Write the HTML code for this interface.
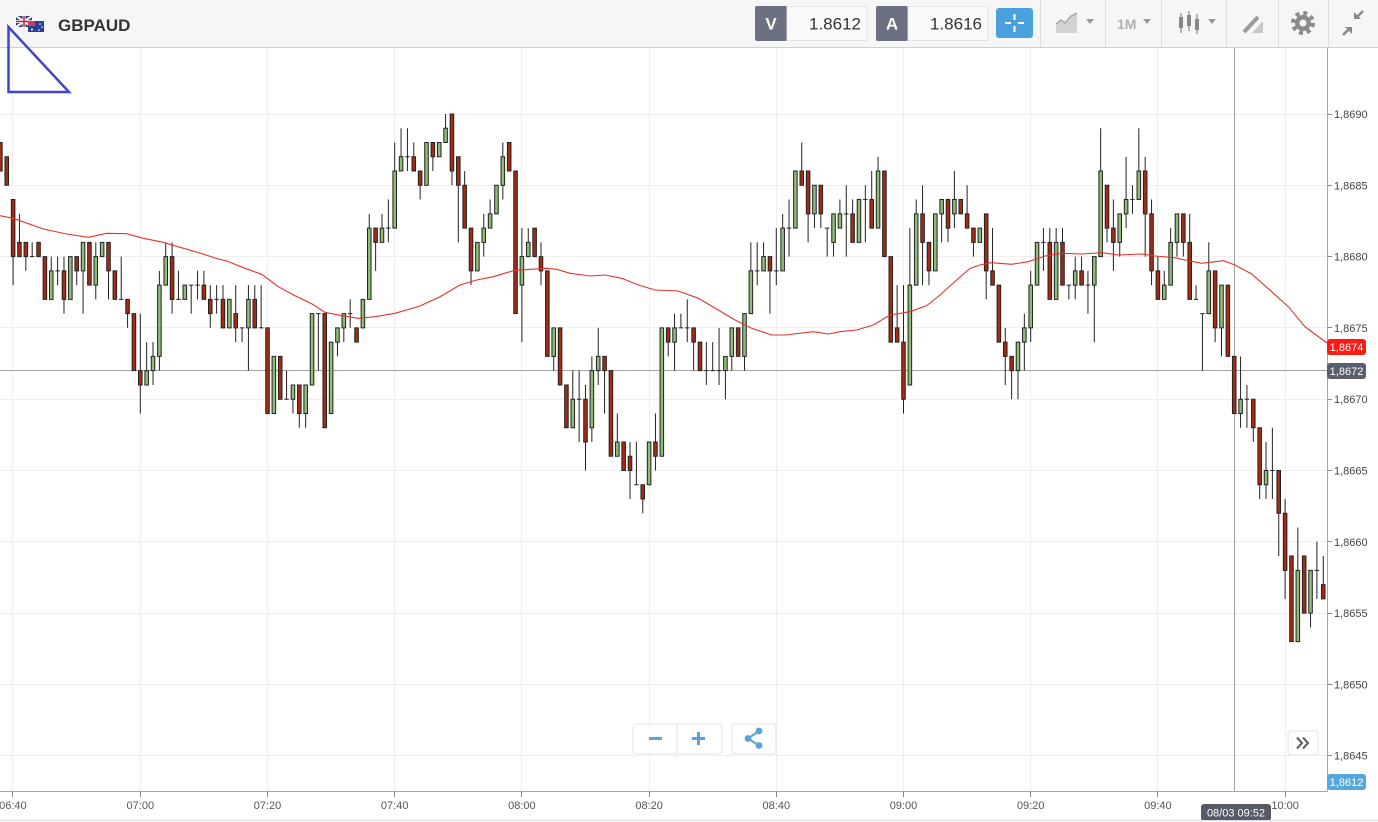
<!DOCTYPE html>
<html>
<head>
<meta charset="utf-8">
<style>
html,body{margin:0;padding:0;background:#fff;}
svg{display:block;font-family:"Liberation Sans",Arial,sans-serif;}
</style>
</head>
<body>
<svg width="1378" height="822" viewBox="0 0 1378 822" xmlns="http://www.w3.org/2000/svg">
<rect width="1378" height="822" fill="#fff"/>

<!-- grid -->
<g stroke="#efefef" stroke-width="1">
<path d="M12.5 48V791M140.5 48V791M267.5 48V791M394.5 48V791M521.5 48V791M649.5 48V791M776.5 48V791M903.5 48V791M1030.5 48V791M1157.5 48V791M1285.5 48V791"/>
<path d="M0 114.5H1327M0 185.5H1327M0 256.5H1327M0 327.5H1327M0 399.5H1327M0 470.5H1327M0 541.5H1327M0 613.5H1327M0 684.5H1327M0 755.5H1327"/>
</g>

<!-- crosshair -->
<path d="M0 370.5H1327M1234.5 48V791" stroke="#a3a3a3" stroke-width="1" fill="none"/>

<!-- wicks -->
<path transform="translate(140.3,114) scale(6.36,14.26)" vector-effect="non-scaling-stroke" fill="none" stroke="#222" stroke-width="1" d="M-22 2V4M-21 3V5M-20 6V12M-19 7V10M-18 9V11M-17 9V10M-16 9V10M-15 10V13M-14 10V13M-13 10V12M-12 10V14M-11 10V13M-10 10V12M-9 9V14M-8 9V12M-7 9V13M-6 9V10M-5 9V13M-4 11V13M-3 10V13M-2 13V15M-1 14V18M0 14V21M1 16V19M2 16V19M3 11V18M4 9V12M5 9V14M6 11V13M7 12V13M8 12V14M9 11V13M10 11V13M11 12V15M12 12V14M13 12V15M14 13V15M15 12V16M16 15V16M17 12V18M18 12V15M19 12V15M20 15V21M21 17V21M22 17V20M23 18V20M24 19V21M25 19V22M26 19V22M27 14V19M28 14V18M29 14V22M30 16V21M31 15V17M32 14V16M33 13V15M34 15V16M35 13V15M36 7V13M37 8V11M38 7V9M39 6V9M40 2V8M41 1V4M42 1V4M43 2V4M44 4V6M45 2V5M46 2V4M47 2V3M48 0V2M49 0V5M50 3V9M51 4V8M52 8V12M53 9V11M54 7V10M55 6V8M56 5V7M57 2V6M58 2V4M59 4V14M60 8V16M61 8V10M62 8V10M63 9V12M64 11V17M65 15V18M66 15V19M67 19V22M68 18V22M69 18V23M70 19V25M71 17V23M72 15V19M73 17V21M74 18V24M75 21V24M76 23V25M77 23V27M78 23V26M79 26V28M80 23V26M81 21V25M82 15V24M83 15V17M84 14V18M85 14V15M86 13V16M87 15V18M88 16V18M89 16V19M90 16V18M91 15V19M92 17V20M93 15V18M94 15V17M95 14V18M96 9V14M97 9V12M98 9V11M99 10V14M100 8V12M101 7V11M102 6V10M103 4V8M104 2V5M105 4V9M106 5V8M107 5V8M108 8V10M109 7V10M110 6V8M111 5V10M112 6V9M113 6V9M114 5V9M115 4V8M116 3V8M117 4V10M118 10V16M119 12V16M120 12V21M121 8V19M122 6V12M123 5V12M124 9V12M125 7V11M126 6V9M127 6V9M128 4V8M129 6V7M130 5V8M131 8V10M132 8V9M133 7V13M134 8V12M135 12V16M136 15V19M137 17V20M138 16V20M139 14V18M140 11V16M141 9V12M142 8V11M143 8V13M144 8V13M145 8V12M146 12V13M147 10V13M148 10V12M149 11V14M150 10V16M151 1V10M152 5V9M153 6V11M154 7V10M155 3V8M156 5V7M157 1V6M158 3V10M159 6V12M160 10V13M161 11V13M162 8V12M163 7V10M164 7V10M165 7V13M166 12V13M167 14V18M168 9V14M169 11V16M170 12V17M171 12V17M172 17V21M173 17V22M174 19V22M175 20V23M176 22V27M177 23V27M178 22V27M179 25V31M180 27V34M181 31V37M182 29V37M183 31V35M184 32V36M185 30V34M186 31V34"/>

<!-- green bodies -->
<path transform="translate(138.52,114) scale(6.36,14.26)" vector-effect="non-scaling-stroke" fill="#8fbd76" stroke="#222" stroke-width="1" d="M-14 11h.56V13h-.56zM-11 10h.56V13h-.56zM-9 9h.56V11h-.56zM-7 10h.56V12h-.56zM-6 9h.56V10h-.56zM1 18h.56V19h-.56zM2 17h.56V18h-.56zM3 12h.56V17h-.56zM4 10h.56V12h-.56zM7 12h.56V13h-.56zM14 13h.56V15h-.56zM17 13h.56V15h-.56zM21 17h.56V21h-.56zM24 19h.56V20h-.56zM26 19h.56V21h-.56zM27 14h.56V19h-.56zM30 16h.56V21h-.56zM31 15h.56V16h-.56zM32 14h.56V15h-.56zM35 13h.56V15h-.56zM36 8h.56V13h-.56zM38 8h.56V9h-.56zM40 4h.56V8h-.56zM41 3h.56V4h-.56zM45 2h.56V5h-.56zM47 2h.56V3h-.56zM48 1h.56V2h-.56zM53 9h.56V11h-.56zM54 8h.56V9h-.56zM55 7h.56V8h-.56zM56 5h.56V7h-.56zM57 3h.56V5h-.56zM60 10h.56V12h-.56zM61 9h.56V10h-.56zM65 15h.56V17h-.56zM68 20h.56V22h-.56zM71 18h.56V22h-.56zM72 17h.56V18h-.56zM75 23h.56V24h-.56zM80 23h.56V26h-.56zM82 15h.56V24h-.56zM84 15h.56V16h-.56zM92 17h.56V18h-.56zM93 15h.56V17h-.56zM95 14h.56V17h-.56zM96 11h.56V14h-.56zM98 10h.56V11h-.56zM101 8h.56V11h-.56zM103 4h.56V8h-.56zM106 5h.56V7h-.56zM109 7h.56V9h-.56zM110 7h.56V8h-.56zM113 6h.56V9h-.56zM116 4h.56V8h-.56zM121 12h.56V19h-.56zM122 7h.56V12h-.56zM125 7h.56V11h-.56zM126 6h.56V7h-.56zM128 6h.56V7h-.56zM132 8h.56V9h-.56zM138 16h.56V18h-.56zM139 15h.56V16h-.56zM140 12h.56V15h-.56zM141 9h.56V12h-.56zM144 9h.56V13h-.56zM147 11h.56V12h-.56zM150 10h.56V12h-.56zM151 4h.56V10h-.56zM154 7h.56V9h-.56zM155 6h.56V7h-.56zM157 4h.56V6h-.56zM161 12h.56V13h-.56zM162 9h.56V12h-.56zM163 7h.56V9h-.56zM168 11h.56V14h-.56zM170 12h.56V15h-.56zM173 20h.56V21h-.56zM177 25h.56V26h-.56zM182 32h.56V37h-.56zM184 32h.56V35h-.56z"/>

<!-- red bodies -->
<path transform="translate(138.52,114) scale(6.36,14.26)" vector-effect="non-scaling-stroke" fill="#a72a12" stroke="#222" stroke-width="1" d="M-22 2h.56V4h-.56zM-21 3h.56V5h-.56zM-20 6h.56V10h-.56zM-19 9h.56V10h-.56zM-18 9h.56V10h-.56zM-16 9h.56V10h-.56zM-15 10h.56V13h-.56zM-12 11h.56V13h-.56zM-10 10h.56V11h-.56zM-8 9h.56V12h-.56zM-5 9h.56V11h-.56zM-4 11h.56V13h-.56zM-2 13h.56V14h-.56zM-1 14h.56V18h-.56zM0 18h.56V19h-.56zM5 10h.56V13h-.56zM10 12h.56V13h-.56zM11 13h.56V14h-.56zM13 13h.56V15h-.56zM15 14h.56V15h-.56zM18 13h.56V15h-.56zM20 15h.56V21h-.56zM22 17h.56V20h-.56zM25 19h.56V21h-.56zM29 14h.56V22h-.56zM34 15h.56V16h-.56zM37 8h.56V9h-.56zM43 3h.56V4h-.56zM44 4h.56V5h-.56zM46 2h.56V3h-.56zM49 0h.56V4h-.56zM50 3h.56V5h-.56zM51 5h.56V8h-.56zM52 8h.56V11h-.56zM58 2h.56V4h-.56zM59 4h.56V14h-.56zM62 8h.56V10h-.56zM63 10h.56V11h-.56zM64 11h.56V17h-.56zM66 15h.56V19h-.56zM67 19h.56V22h-.56zM70 20h.56V23h-.56zM73 17h.56V18h-.56zM74 18h.56V24h-.56zM76 23h.56V25h-.56zM77 24h.56V25h-.56zM79 26h.56V27h-.56zM81 23h.56V24h-.56zM83 15h.56V16h-.56zM87 15h.56V16h-.56zM88 16h.56V18h-.56zM94 15h.56V17h-.56zM99 10h.56V11h-.56zM104 4h.56V5h-.56zM105 4h.56V7h-.56zM107 5h.56V7h-.56zM112 7h.56V9h-.56zM115 6h.56V8h-.56zM117 4h.56V10h-.56zM118 10h.56V16h-.56zM119 15h.56V16h-.56zM120 16h.56V20h-.56zM123 7h.56V9h-.56zM124 9h.56V11h-.56zM127 6h.56V8h-.56zM129 6h.56V7h-.56zM130 7h.56V8h-.56zM131 8h.56V9h-.56zM133 7h.56V11h-.56zM134 11h.56V12h-.56zM135 12h.56V16h-.56zM136 16h.56V17h-.56zM137 17h.56V18h-.56zM143 9h.56V13h-.56zM145 9h.56V12h-.56zM148 11h.56V12h-.56zM152 5h.56V8h-.56zM153 8h.56V9h-.56zM158 4h.56V7h-.56zM159 7h.56V11h-.56zM160 11h.56V13h-.56zM164 7h.56V9h-.56zM165 9h.56V13h-.56zM169 11h.56V15h-.56zM171 12h.56V17h-.56zM172 17h.56V21h-.56zM175 20h.56V22h-.56zM176 22h.56V26h-.56zM179 25h.56V28h-.56zM180 28h.56V32h-.56zM181 31h.56V37h-.56zM183 31h.56V35h-.56zM186 33h.56V34h-.56z"/>

<!-- doji -->
<path transform="translate(138.07,114) scale(6.36,14.26)" vector-effect="non-scaling-stroke" fill="none" stroke="#222" stroke-width="1" d="M-17 10h.7M-13 11h.7M-3 13h.7M6 13h.7M8 12h.7M9 12h.7M12 13h.7M16 15h.7M19 15h.7M23 20h.7M28 14h.7M33 14h.7M39 8h.7M42 3h.7M69 20h.7M78 26h.7M85 15h.7M86 15h.7M89 18h.7M90 18h.7M91 18h.7M97 11h.7M100 11h.7M102 8h.7M108 8h.7M111 7h.7M114 6h.7M142 9h.7M146 12h.7M149 12h.7M156 6h.7M166 13h.7M167 14h.7M174 20h.7M178 25h.7M185 32h.7"/>

<!-- moving average -->
<polyline fill="none" stroke="#e3342b" stroke-width="1.1" points="0,215.7 13.3,218.3 43.3,229 66.7,234 88.3,237.3 106.7,233.3 126.7,233.7 143.3,238.3 163.3,242.3 180,247.3 200,253 215,258 226.7,261 245,268.3 261.7,274.3 278.3,286.7 295,295.7 311.7,303.7 325,312.3 341.7,315.7 358.3,318.3 375,316.7 395,313.3 420,306 440,296.7 460,285 476.7,280 493.3,276.7 513.3,270.7 530,269.3 546.7,268.3 556.7,269.3 570,273.3 590,276 605,275 621.7,278.3 638.3,285 655,290 678.3,291 698.3,298.3 718.3,310 735,320 751.7,328.3 771.7,335 785,335 813.3,331.7 828.3,334 840,331.7 856.7,330 873.3,325 890,315 910,311.7 926.7,305.7 940,295 956.7,280 970,268.3 980,265 991.7,262.7 1011.7,264.3 1028.3,261.7 1045,256 1061.7,253.3 1081.7,254 1101.7,252.7 1118.3,255 1141.7,254 1155,256 1175,257.7 1185,260 1201.7,263.3 1223.3,260.7 1235,265 1251.7,274 1271.7,291.7 1288.3,306.7 1305,326.7 1327,343"/>

<!-- axes -->
<path d="M1327.5 48V791.5M0 791.5H1327.5" stroke="#a8a8a8" stroke-width="1" fill="none"/>
<path d="M1328 114.5h4M1328 185.5h4M1328 256.5h4M1328 327.5h4M1328 399.5h4M1328 470.5h4M1328 541.5h4M1328 613.5h4M1328 684.5h4M1328 755.5h4" stroke="#888" stroke-width="1"/>
<path d="M12.5 792v5M140.5 792v5M267.5 792v5M394.5 792v5M521.5 792v5M649.5 792v5M776.5 792v5M903.5 792v5M1030.5 792v5M1157.5 792v5M1285.5 792v5" stroke="#888" stroke-width="1"/>

<g font-size="11" fill="#444">
<text x="1334" y="118">1,8690</text>
<text x="1334" y="189.3">1,8685</text>
<text x="1334" y="260.6">1,8680</text>
<text x="1334" y="331.9">1,8675</text>
<text x="1334" y="403.2">1,8670</text>
<text x="1334" y="474.5">1,8665</text>
<text x="1334" y="545.8">1,8660</text>
<text x="1334" y="617.1">1,8655</text>
<text x="1334" y="688.4">1,8650</text>
<text x="1334" y="759.7">1,8645</text>
</g>
<g font-size="11" fill="#555" text-anchor="middle">
<text x="12.9" y="809">06:40</text>
<text x="140.3" y="809">07:00</text>
<text x="267.5" y="809">07:20</text>
<text x="394.7" y="809">07:40</text>
<text x="521.9" y="809">08:00</text>
<text x="649.1" y="809">08:20</text>
<text x="776.3" y="809">08:40</text>
<text x="903.5" y="809">09:00</text>
<text x="1030.7" y="809">09:20</text>
<text x="1157.9" y="809">09:40</text>
<text x="1285.1" y="809">10:00</text>
</g>

<!-- price tags -->
<rect x="1327" y="339" width="39" height="16" rx="3" fill="#ff1a14"/>
<text x="1346.5" y="351" font-size="11" fill="#fff" text-anchor="middle">1,8674</text>
<rect x="1327" y="363" width="39" height="16" rx="3" fill="#5a5f6b"/>
<text x="1346.5" y="375" font-size="11" fill="#fff" text-anchor="middle">1,8672</text>
<rect x="1327" y="774" width="39" height="16" rx="3" fill="#55a8dd"/>
<text x="1346.5" y="786" font-size="11" fill="#fff" text-anchor="middle">1,8612</text>
<rect x="1201" y="804" width="70" height="17" rx="3" fill="#555a66"/>
<text x="1236" y="816.5" font-size="11" fill="#fff" text-anchor="middle">08/03 09:52</text>

<line x1="0" y1="820.5" x2="1378" y2="820.5" stroke="#dcdcdc"/>

<!-- bottom controls -->
<g>
<rect x="633" y="724" width="89" height="30" rx="3" fill="#fff" stroke="#e4e4e4"/>
<line x1="677" y1="724" x2="677" y2="754" stroke="#e0e0e0"/>
<rect x="649" y="737" width="13" height="3" fill="#5aa3d6"/>
<rect x="692" y="737" width="13" height="3" fill="#5aa3d6"/>
<rect x="697" y="732" width="3" height="13" fill="#5aa3d6"/>
<rect x="732" y="724" width="44" height="30" rx="3" fill="#fff" stroke="#e4e4e4"/>
<path d="M759 731L748 738.5L759 745.5" stroke="#5aa3d6" stroke-width="2" fill="none"/>
<circle cx="759" cy="731" r="3.4" fill="#5aa3d6"/>
<circle cx="748" cy="738.5" r="3.4" fill="#5aa3d6"/>
<circle cx="759" cy="745.5" r="3.4" fill="#5aa3d6"/>
<rect x="1288" y="731" width="30" height="24" rx="3" fill="#fff" stroke="#e4e4e4"/>
<path d="M1297 737.5l5 5.5-5 5.5M1303 737.5l5 5.5-5 5.5" stroke="#666" stroke-width="2.2" fill="none"/>
</g>

<!-- toolbar -->
<rect x="0" y="0" width="1378" height="47" fill="#f6f6f6"/>
<line x1="0" y1="47.5" x2="1378" y2="47.5" stroke="#cfcfcf"/>
<!-- flags -->
<rect x="16" y="16" width="16" height="11" fill="#243f8f"/>
<path d="M16 16L32 27M32 16L16 27" stroke="#fff" stroke-width="2"/>
<path d="M24 16V27M16 21.5H32" stroke="#fff" stroke-width="3"/>
<path d="M24 16V27M16 21.5H32" stroke="#d02030" stroke-width="1.5"/>
<rect x="28" y="21" width="16" height="11" fill="#2a3f95"/>
<rect x="28" y="21" width="7" height="5" fill="#c04060"/>
<circle cx="32" cy="29.5" r="1" fill="#fff"/><circle cx="40" cy="24" r="0.8" fill="#fff"/><circle cx="42" cy="27" r="0.8" fill="#fff"/><circle cx="39" cy="30" r="0.8" fill="#fff"/>
<text x="58" y="31" font-size="17" font-weight="bold" fill="#333">GBPAUD</text>

<rect x="755" y="6" width="32" height="35" rx="2" fill="#6b7083"/>
<text x="771" y="29.5" font-size="17" font-weight="bold" fill="#fff" text-anchor="middle">V</text>
<rect x="787" y="6.5" width="80" height="34" fill="#fafafa" stroke="#e3e3e3"/>
<text x="861" y="29.5" font-size="17" fill="#333" text-anchor="end">1.8612</text>
<rect x="876" y="6" width="32" height="35" rx="2" fill="#6b7083"/>
<text x="892" y="29.5" font-size="17" font-weight="bold" fill="#fff" text-anchor="middle">A</text>
<rect x="908" y="6.5" width="80" height="34" fill="#fafafa" stroke="#e3e3e3"/>
<text x="982" y="29.5" font-size="17" fill="#333" text-anchor="end">1.8616</text>
<rect x="996" y="8" width="37" height="30" rx="3" fill="#49a1dd"/>
<path d="M1005 23h6M1018 23h6M1014.5 14v6M1014.5 26v6" stroke="#fff" stroke-width="2"/>

<path d="M1040.5 0V47M1105.5 0V47M1161.5 0V47M1226.5 0V47M1278.5 0V47M1328.5 0V47" stroke="#dedede"/>

<polygon points="1056,33 1056,24 1061,20 1065,23 1071,16 1077,13 1077,33" fill="#d2d2d2"/>
<polyline points="1056,24 1061,20 1065,23 1071,16 1077,13" fill="none" stroke="#aaa" stroke-width="1.5"/>
<polygon points="1086,19 1094,19 1090,24" fill="#999"/>
<text x="1117" y="29" font-size="14" font-weight="bold" fill="#b0b0b0">1M</text>
<polygon points="1143,19 1151,19 1147,24" fill="#999"/>
<path d="M1181 13V33M1189 11V31M1197 14V34" stroke="#888" stroke-width="1.2"/>
<rect x="1179" y="17" width="4" height="11" fill="#888"/>
<rect x="1187" y="15" width="4" height="11" fill="#888"/>
<rect x="1195" y="19" width="4" height="11" fill="#888"/>
<polygon points="1208,19 1216,19 1212,24" fill="#999"/>
<path d="M1244 32L1258 17" stroke="#9a9a9a" stroke-width="4"/>
<polygon points="1252,33 1263,33 1263,21" fill="#c8c8c8"/>
<circle cx="1303" cy="23" r="8" fill="#8a8a8a"/>
<circle cx="1303" cy="23" r="10" fill="none" stroke="#8a8a8a" stroke-width="4" stroke-dasharray="4 3.85"/>
<circle cx="1303" cy="23" r="3.5" fill="#f6f6f6"/>
<path d="M1343 35L1350 28M1363 11L1356 18" stroke="#8a8a8a" stroke-width="2.5"/>
<polygon points="1345,27 1352,27 1352,34" fill="#8a8a8a"/>
<polygon points="1354,12 1354,19 1361,19" fill="#8a8a8a"/>

<!-- triangle drawing -->
<polygon points="8.5,27 8.5,92 69,92" fill="none" stroke="#3f47c6" stroke-width="2.5"/>
</svg>
</body>
</html>
